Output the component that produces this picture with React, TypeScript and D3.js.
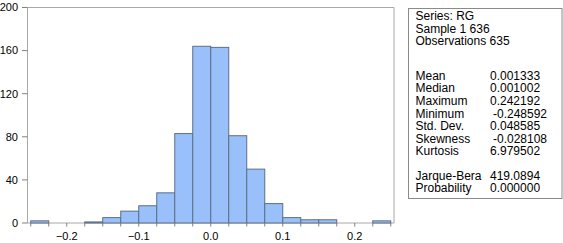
import React from "react"
import * as d3 from "d3"

// histogram of RG, bins of width 0.025
const binLow = [-0.25, -0.225, -0.2, -0.175, -0.15, -0.125, -0.1, -0.075, -0.05, -0.025,
  0, 0.025, 0.05, 0.075, 0.1, 0.125, 0.15, 0.175, 0.2, 0.225]
const counts = [2, 0, 0, 1, 5, 11, 16, 28, 83, 164, 163, 81, 50, 18, 5, 3, 3, 0, 0, 2]
const binWidth = 0.025

const xTicks = [-0.2, -0.1, 0.0, 0.1, 0.2]
const yTicks = [0, 40, 80, 120, 160, 200]

const headerLines = ["Series: RG", "Sample 1 636", "Observations 635"]
const statNames = ["Mean", "Median", "Maximum", "Minimum", "Std. Dev.", "Skewness", "Kurtosis"]
const statValues = ["0.001333", "0.001002", "0.242192", "-0.248592", "0.048585", "-0.028108", "6.979502"]
const testNames = ["Jarque-Bera", "Probability"]
const testValues = ["419.0894", "0.000000"]

const font = "Arial, 'Liberation Sans', sans-serif"

export default function App() {
  const x = d3.scaleLinear().domain([-0.2545, 0.2545]).range([27.5, 394])
  const y = d3.scaleLinear().domain([0, 200]).range([223, 7.5])

  const edges = binLow.concat([binLow[binLow.length - 1] + binWidth])
  const step = 12.6

  return (
    <svg width={563} height={243} style={{ position: "absolute", left: 0, top: 0, background: "#fff" }}>
      {/* plot frame */}
      <g stroke="#a8a8a8" strokeWidth={1} fill="none">
        <line x1={27.5} x2={394} y1={7.5} y2={7.5} />
        <line x1={394} x2={394} y1={7.5} y2={223} />
        <line x1={27.5} x2={27.5} y1={7.5} y2={223} />
        <line x1={27.5} x2={394} y1={223} y2={223} />
      </g>

      {/* bars */}
      <g>
        {counts.map((c, i) =>
          c > 0 ? (
            <rect
              key={i}
              x={x(binLow[i])}
              y={y(c)}
              width={x(binLow[i] + binWidth) - x(binLow[i])}
              height={y(0) - y(c)}
              fill="#99c0fa"
              stroke="#5d6f86"
              strokeWidth={1}
            />
          ) : null
        )}
      </g>

      {/* y axis */}
      <g fontFamily={font} fontSize={11} fill="#000">
        {yTicks.map(t => (
          <g key={t}>
            <line x1={22} x2={27.5} y1={y(t)} y2={y(t)} stroke="#808080" />
            <text x={18} y={y(t)} dy="0.35em" textAnchor="end">{t}</text>
          </g>
        ))}
      </g>

      {/* x axis */}
      <g fontFamily={font} fontSize={11} fill="#000">
        {edges.map((e, i) => (
          <line key={i} x1={x(e)} x2={x(e)} y1={223} y2={226.5} stroke="#808080" />
        ))}
        {xTicks.map(t => (
          <text key={t} x={x(t)} y={236} dy="0.35em" textAnchor="middle">{d3.format(".1f")(t)}</text>
        ))}
      </g>

      {/* statistics box */}
      <rect x={408.5} y={8.5} width={153.5} height={190} fill="#fff" stroke="#8a8a8a" />
      <g fontFamily={font} fontSize={12} fill="#000">
        {headerLines.map((s, i) => (
          <text key={s} x={415.5} y={16 + i * step} dy="0.35em">{s}</text>
        ))}
        {statNames.map((s, i) => (
          <text key={s} x={415.5} y={75.5 + i * step} dy="0.35em">{s}</text>
        ))}
        {statValues.map((v, i) => (
          <text key={i} x={v.startsWith("-") ? 493 : 490} y={75.5 + i * step} dy="0.35em">{v}</text>
        ))}
        {testNames.map((s, i) => (
          <text key={s} x={415.5} y={175.5 + i * step} dy="0.35em">{s}</text>
        ))}
        {testValues.map((v, i) => (
          <text key={i} x={490} y={175.5 + i * step} dy="0.35em">{v}</text>
        ))}
      </g>
    </svg>
  )
}
